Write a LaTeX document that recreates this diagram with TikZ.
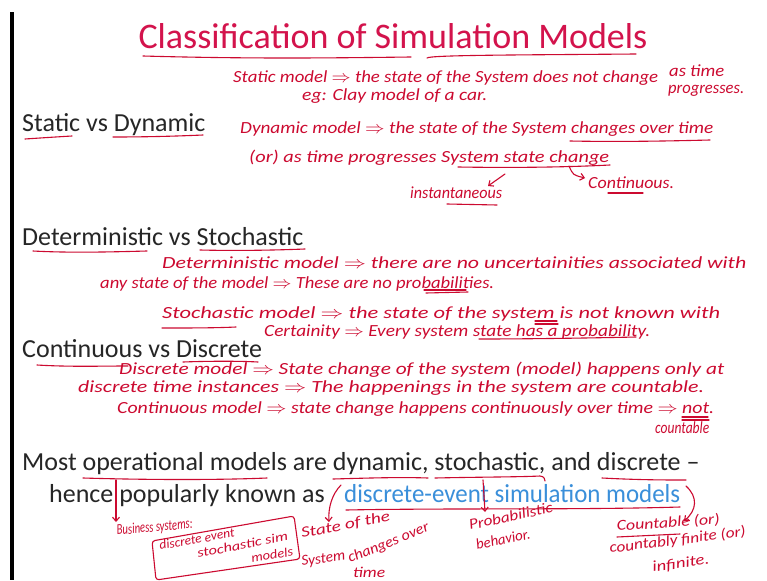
\documentclass[tikz,border=0pt]{standalone}
\usepackage{fontspec}
\setmainfont{Carlito}
\usetikzlibrary{arrows.meta}
\definecolor{titlered}{HTML}{D3134C}
\definecolor{anno}{HTML}{CC0A30}
\definecolor{linkblue}{HTML}{3A8FDA}
\newcommand{\hwt}[2]{\resizebox{#1pt}{\height}{#2}}
\tikzset{
  hw/.style={anchor=base west, inner sep=0pt, text=anno, font=\fontsize{17}{20}\selectfont\itshape},
  hwsmall/.style={hw, font=\fontsize{15}{18}\selectfont\itshape},
  hwtiny/.style={hw, font=\fontsize{13}{15}\selectfont\itshape},
  heading/.style={anchor=base west, inner sep=0pt, font=\fontsize{26}{30}\selectfont, text=black!85},
  ul/.style={draw=anno, line width=1.1pt, line cap=round, line join=round},
  arr/.style={ul, -{Straight Barb[length=4pt,width=7pt]}}
}
\begin{document}
\begin{tikzpicture}[x=1pt,y=-1pt]
\useasboundingbox (0,0) rectangle (767,580);
\fill[white] (0,0) rectangle (767,580);
\fill[black] (10,12) rectangle (14,580);

% title
\node[anchor=base, inner sep=0pt, font=\fontsize{36}{40}\selectfont, text=titlered] (title) at (393,49) {Classification of Simulation Models};
\draw[ul] (143,56) .. controls (250,59) and (330,58) .. (411,57);
\draw[ul] (427,58) .. controls (430,55) and (520,55) .. (636,54);

% headings
\node[heading] (h1) at (22,132) {Static vs Dynamic};
\node[heading] (h2) at (22,245) {Deterministic vs Stochastic};
\node[heading] (h3) at (22,357) {Continuous vs Discrete};
\draw[ul] (25,139) .. controls (40,138) and (55,137) .. (72,136);
\draw[ul] (113,137) .. controls (150,137) and (180,136) .. (203,135);
\draw[ul] (33,251) .. controls (70,253) and (110,252) .. (147,251);
\draw[ul] (200,250) .. controls (240,251) and (280,250) .. (305,249);
\draw[ul] (37,365) .. controls (70,367) and (100,366) .. (128,366);
\draw[ul] (183,362) .. controls (210,361) and (240,361) .. (258,362);

% static / dynamic notes
\node[hw] (s1) at (233,83) {\hwt{425}{Static model $\Rightarrow$ the state of the System does not change}};
\node[hw] (s1b) at (669,77) {\hwt{55}{as time}};
\node[hw] (s2) at (668,94) {\hwt{76}{progresses.}};
\node[hw] (s3) at (302,101) {\hwt{185}{eg: Clay model of a car.}};
\node[hw] (d1) at (240,134) {\hwt{473}{Dynamic model $\Rightarrow$ the state of the System changes over time}};
\draw[ul] (570,141) .. controls (620,142) and (670,141) .. (710,140);
\node[hw] (d2) at (249,162) {\hwt{360}{(or) as time progresses System state change}};
\draw[ul] (458,167) .. controls (520,168) and (570,167) .. (610,165);
\coordinate (a1s) at (505,174);
\coordinate (a1e) at (488,186);
\draw[arr] (a1s) -- (a1e);
\coordinate (a2s) at (569,166);
\coordinate (a2e) at (585,178);
\draw[arr] (a2s) .. controls (573,175) .. (a2e);
\node[hw] (inst) at (410,198) {\hwt{92}{instantaneous}};
\draw[ul] (447,204) -- (497,205);
\node[hw] (cont) at (588,188) {\hwt{86}{Continuous.}};
\draw[ul] (608,193) -- (643,193);

% deterministic / stochastic notes
\node[hw] (t1) at (162,268) {\hwt{584}{Deterministic model $\Rightarrow$ there are no uncertainities associated with}};
\node[hw] (t2) at (100,288) {\hwt{394}{any state of the model $\Rightarrow$ These are no probabilities.}};
\draw[ul] (424,290) -- (466,290);
\draw[ul] (426,293) -- (468,292);
\node[hw] (t3) at (162,318) {\hwt{558}{Stochastic model $\Rightarrow$ the state of the system is not known with}};
\draw[ul] (162,328) .. controls (190,328) and (215,328) .. (236,327);
\draw[ul] (535,321) -- (557,321);
\draw[ul] (535,324) -- (558,324);
\node[hw] (t4) at (264,336) {\hwt{386}{Certainity $\Rightarrow$ Every system state has a probability.}};
\draw[ul] (479,339) .. controls (530,339) and (590,338) .. (636,337);

% continuous / discrete notes
\node[hw] (u1) at (119,374) {\hwt{605}{Discrete model $\Rightarrow$ State change of the system (model) happens only at}};
\node[hw] (u2) at (78,392) {\hwt{626}{discrete time instances $\Rightarrow$ The happenings in the system are countable.}};
\node[hw] (u3) at (117,413) {\hwt{597}{Continuous model $\Rightarrow$ state change happens continuously over time $\Rightarrow$ not.}};
\draw[ul] (682,417) -- (708,417);
\draw[ul] (682,420) -- (709,420);
\node[hw] (u4) at (655,433) {\hwt{54}{countable}};

% bottom statement
\node[heading] (b1) at (22,470) {Most operational models are dynamic, stochastic, and discrete --};
\node[heading] (b2) at (49,502) {hence popularly known as};
\node[heading, text=linkblue] (b3) at (344,502) {\resizebox{336pt}{\height}{discrete-event simulation models}};
\draw[ul] (83,478) .. controls (150,480) and (220,480) .. (267,478);
\draw[ul] (333,479) .. controls (370,478) and (400,477) .. (428,478);
\draw[ul] (435,478) .. controls (480,477) and (520,477) .. (540,476) .. controls (544,477) .. (545,481);
\draw[ul] (602,478) .. controls (640,480) and (665,480) .. (686,480);
\draw[ul] (346,510) .. controls (450,508) and (580,510) .. (680,507);

% arrows down to notes
\coordinate (o1) at (116,480);
\coordinate (o2) at (116,522);
\draw[arr] (o1) -- (o2);
\coordinate (p1) at (341,485);
\coordinate (p2) at (329,522);
\draw[arr] (p1) .. controls (332,494) and (328,508) .. (p2);
\coordinate (q1) at (483,480);
\coordinate (q2) at (485,512);
\draw[arr] (q1) -- (q2);
\coordinate (r1) at (686,486);
\coordinate (r2) at (684,521);
\draw[arr] (r1) .. controls (698,497) and (697,510) .. (r2);

% business systems
\node[hwsmall, rotate=5] (bs) at (117,535) {\hwt{76}{Business systems:}};
\draw[ul, rounded corners=3pt] (152,541) -- (294,516) -- (300,559) -- (156,580) -- cycle;
\node[hwtiny, rotate=10] (bx1) at (160,550) {\hwt{76}{discrete event}};
\node[hwtiny, rotate=11] (bx2) at (198,558) {\hwt{92}{stochastic sim}};
\node[hwtiny, rotate=10] (bx3) at (252,563) {\hwt{42}{models}};

% state of the system
\node[hwsmall, rotate=11] (st1) at (302,538) {\hwt{90}{State of the}};
\node[hwsmall, rotate=8] (st2) at (302,566) {\hwt{44}{System}};
\node[hwsmall, rotate=22] (st3) at (350,563) {\hwt{86}{changes over}};
\node[hwsmall] (st4) at (353,577) {\hwt{32}{time}};

% probabilistic
\node[hwsmall, rotate=12] (pb1) at (470,530) {\hwt{85}{Probabilistic}};
\node[hwsmall, rotate=12] (pb2) at (477,550) {\hwt{55}{behavior.}};

% countable
\node[hwsmall, rotate=4] (c1) at (617,531) {\hwt{103}{Countable (or)}};
\draw[ul] (617,537) -- (680,534);
\node[hwsmall, rotate=7] (c2) at (610,553) {\hwt{137}{countably finite (or)}};
\node[hwsmall, rotate=8] (c3) at (653,572) {\hwt{57}{infinite.}};
\end{tikzpicture}
\end{document}
